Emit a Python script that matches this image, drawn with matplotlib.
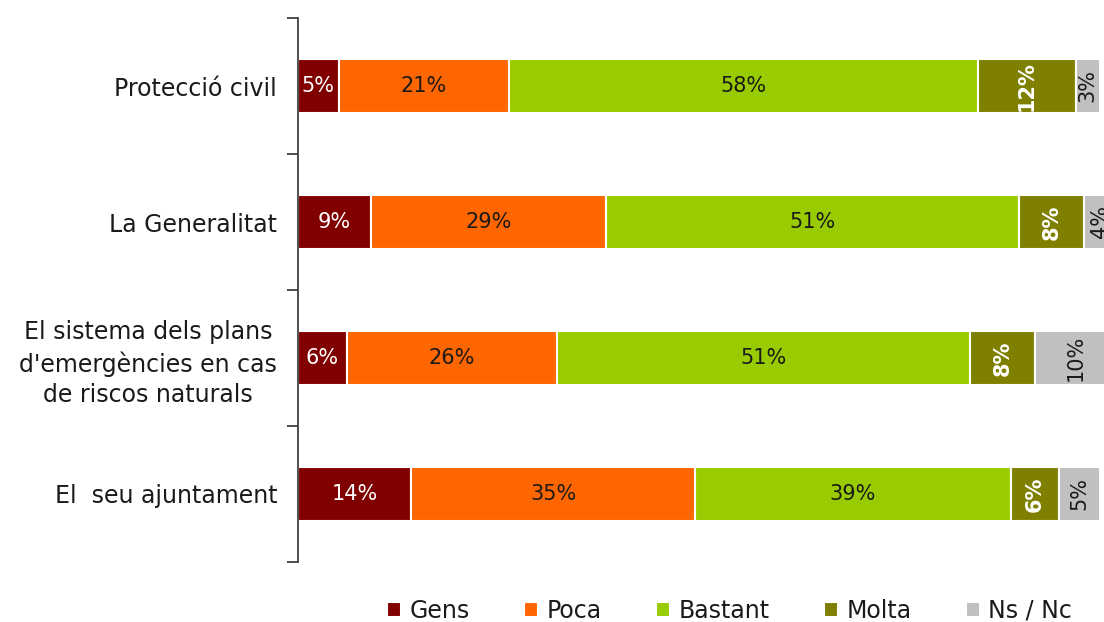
import matplotlib
matplotlib.use("Agg")
import matplotlib.pyplot as plt
import numpy as np

plt.rcParams['font.family'] = ['DejaVu Sans']

categories = ["Protecció civil", "La Generalitat",
              "El sistema dels plans\nd'emergències en cas\nde riscos naturals",
              "El  seu ajuntament"]
series = ["Gens", "Poca", "Bastant", "Molta", "Ns / Nc"]
gens = [5, 9, 6, 14]
poca = [21, 29, 26, 35]
bastant = [58, 51, 51, 39]
molta = [12, 8, 8, 6]
nsnc = [3, 4, 10, 5]

colors = ["#800000", "#FF6600", "#99CC00", "#808000", "#C0C0C0"]
text_colors = ["white", "#1a1a1a", "#1a1a1a", "white", "#1a1a1a"]
rotations = [0, 0, 0, 90, 90]
weights = ["normal", "normal", "normal", "bold", "normal"]

fig = plt.figure(figsize=(11.04, 6.22), dpi=100)
ax = fig.add_axes([298 / 1104, 60 / 622, 810 / 1104, 544 / 622])

y = np.arange(len(categories))
left = np.zeros(len(categories))
for i, vals in enumerate([gens, poca, bastant, molta, nsnc]):
    vals = np.array(vals, dtype=float)
    ax.barh(y, vals, left=left, height=0.39, color=colors[i],
            edgecolor="white", linewidth=1.5, label=series[i])
    for j, v in enumerate(vals):
        ax.text(left[j] + v / 2, y[j], f"{int(v)}%", ha="center", va="center",
                color=text_colors[i], rotation=rotations[i], fontsize=15,
                fontweight=weights[i])
    left += vals

ax.set_xlim(0, 100)
ax.set_ylim(3.5, -0.5)
ax.xaxis.set_visible(False)
for s in ["top", "right", "bottom"]:
    ax.spines[s].set_visible(False)
ax.spines["left"].set_color("#404040")
ax.spines["left"].set_linewidth(1.3)

ax.set_yticks(np.arange(-0.5, 4, 1))
ax.set_yticklabels([])
ax.tick_params(axis="y", which="major", length=8, width=1.3, color="#404040", direction="out")
ax.set_yticks(y, minor=True)
ax.set_yticklabels(categories, minor=True, fontsize=17, color="#1a1a1a",
                   multialignment="center", linespacing=1.35)
ax.tick_params(axis="y", which="minor", length=0, pad=15)

fig.legend(loc="center", bbox_to_anchor=(0.661, 0.018), ncol=5, frameon=False,
           fontsize=17, handlelength=0.6, handleheight=0.6, handletextpad=0.35,
           columnspacing=2.3, labelcolor="#1a1a1a")

fig.savefig("out.png", dpi=100)
